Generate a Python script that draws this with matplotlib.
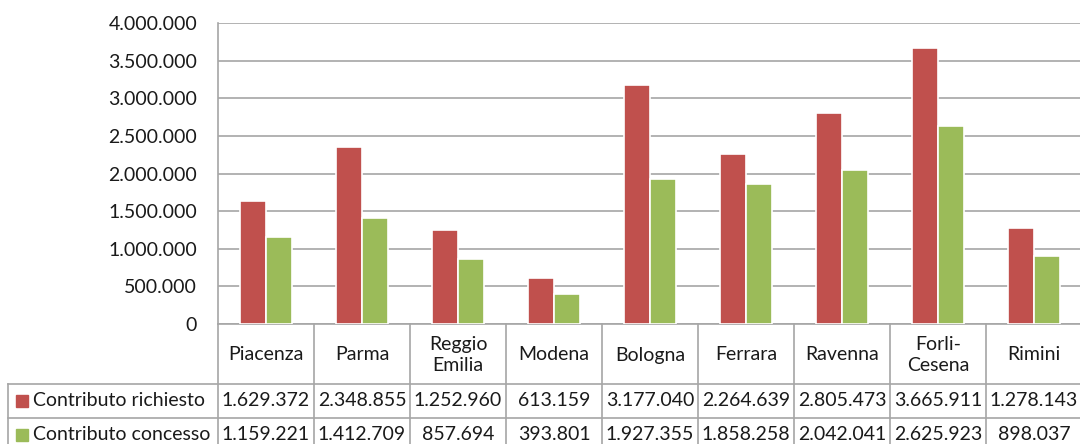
import matplotlib
matplotlib.use('Agg')
from matplotlib import pyplot as plt
from matplotlib.ticker import FuncFormatter
import numpy as np

# data
province = ['Piacenza', 'Parma', 'Reggio\nEmilia', 'Modena', 'Bologna',
            'Ferrara', 'Ravenna', 'Forli-\nCesena', 'Rimini']
richiesto = [1629372, 2348855, 1252960, 613159, 3177040,
             2264639, 2805473, 3665911, 1278143]
concesso = [1159221, 1412709, 857694, 393801, 1927355,
            1858258, 2042041, 2625923, 898037]
series_names = ['Contributo richiesto', 'Contributo concesso']
colors = ['#C0504D', '#9BBB59']

plt.rcParams['font.family'] = ['Lato', 'DejaVu Sans']
txt_col = '#1a1a1a'
line_col = '#a6a6a6'
fs = 14

def fmt(v, pos=None):
    return '{:,}'.format(int(v)).replace(',', '.')

fig = plt.figure(figsize=(10.8, 4.44), dpi=100)
W, H = 1080.0, 444.0
x0, x1 = 218.0, 1082.0
ytop, ybot = 23.0, 324.0
ax = fig.add_axes([x0 / W, (H - ybot) / H, (x1 - x0) / W, (ybot - ytop) / H])

x = np.arange(len(province))
bw = 0.275
ax.bar(x - bw / 2, richiesto, bw, color=colors[0], edgecolor='white', linewidth=1.2, zorder=3)
ax.bar(x + bw / 2, concesso, bw, color=colors[1], edgecolor='white', linewidth=1.2, zorder=3)

ax.set_xlim(-0.5, len(province) - 0.5)
ax.set_ylim(0, 4000000)
ax.set_yticks(np.arange(0, 4000001, 500000))
ax.yaxis.set_major_formatter(FuncFormatter(fmt))
ax.tick_params(axis='y', length=0, pad=15, labelsize=fs, labelcolor=txt_col)
ax.set_xticks([])
ax.grid(axis='y', color=line_col, linewidth=1.2, zorder=0)
for s in ['top', 'right']:
    ax.spines[s].set_visible(False)
ax.spines['left'].set_color(line_col)
ax.spines['bottom'].set_color(line_col)
ax.spines['left'].set_linewidth(1.2)
ax.spines['bottom'].set_linewidth(1.2)

# data table below the plot (x in category units, y in axes fraction)
tr = ax.get_xaxis_transform()
unit = (x1 - x0) / len(province)
def ay(py):
    return (ybot - py) / (ybot - ytop)
xleft = -0.5 - (x0 - 8) / unit
rows_y = [ay(384), ay(418), ay(452)]
kw = dict(color=line_col, linewidth=1.2, transform=tr, clip_on=False)
for i in range(len(province) + 1):
    ax.plot([i - 0.5, i - 0.5], [0, rows_y[-1]], **kw)
ax.plot([xleft, xleft], [rows_y[0], rows_y[-1]], **kw)
for yy in rows_y:
    ax.plot([xleft, len(province) - 0.5], [yy, yy], **kw)

for i, name in enumerate(province):
    ax.text(i, ay(355), name, transform=tr, ha='center', va='center',
            fontsize=fs, color=txt_col, linespacing=1.3)
    ax.text(i, ay(401), fmt(richiesto[i]), transform=tr, ha='center', va='center',
            fontsize=fs, color=txt_col)
    ax.text(i, ay(435), fmt(concesso[i]), transform=tr, ha='center', va='center',
            fontsize=fs, color=txt_col)

xmark = -0.5 - (x0 - 21.5) / unit
xlab = -0.5 - (x0 - 33) / unit
for name, c, py in zip(series_names, colors, [401, 435]):
    ax.plot([xmark], [ay(py)], marker='s', markersize=8, color=c, transform=tr,
            clip_on=False, linestyle='none')
    ax.text(xlab, ay(py), name, transform=tr, ha='left', va='center',
            fontsize=fs, color=txt_col)

plt.savefig('out.png', dpi=100)
